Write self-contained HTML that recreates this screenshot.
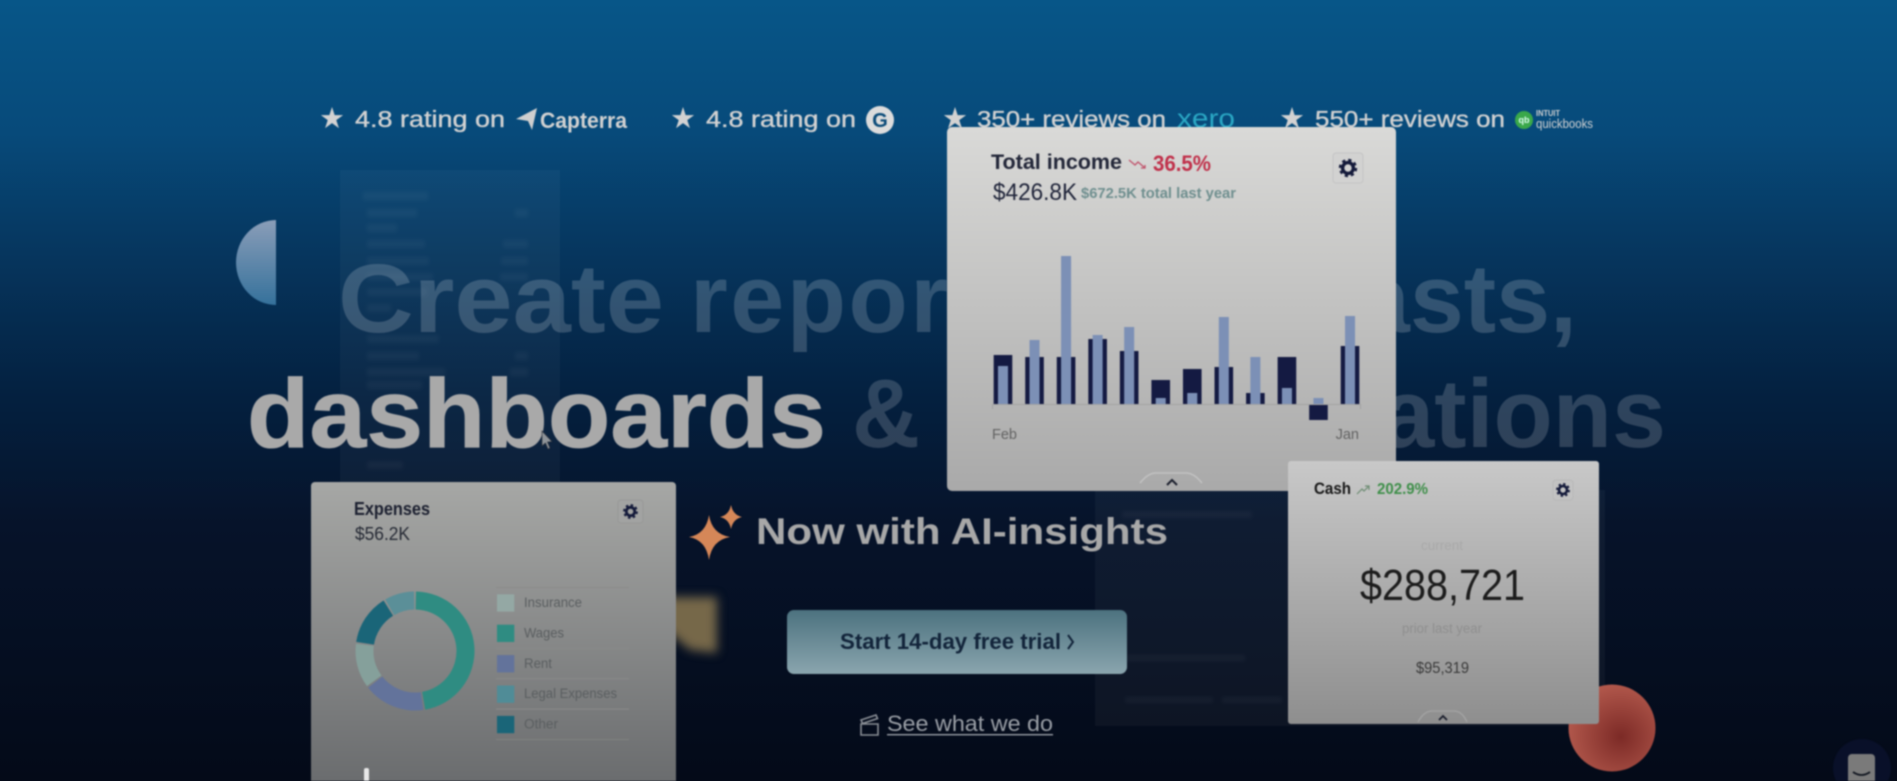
<!DOCTYPE html>
<html lang="en">
<head>
<meta charset="utf-8">
<title>Dashboard hero</title>
<style>
  html,body{margin:0;padding:0;width:1897px;height:781px;overflow:hidden}
  body{background:linear-gradient(180deg,#075688 0,#074a7a 17%,#06355d 33%,#04203f 51%,#06132a 67%,#040a18 100%)}
  svg{display:block;filter:blur(.7px)}
  text{font-family:"Liberation Sans",sans-serif}
</style>
</head>
<body>
<svg id="stage" xmlns="http://www.w3.org/2000/svg" width="1897" height="781" viewBox="0 0 1897 781">
  <defs>
    <linearGradient id="cardIncome" x1="0" y1="0" x2="0" y2="1"><stop offset="0" stop-color="#d9d9d7"/><stop offset="1" stop-color="#a9a9a9"/></linearGradient>
    <linearGradient id="cardExpenses" x1="0" y1="0" x2="0" y2="1"><stop offset="0" stop-color="#a6a7a5"/><stop offset="1" stop-color="#696b6d"/></linearGradient>
    <linearGradient id="cardCash" x1="0" y1="0" x2="0" y2="1"><stop offset="0" stop-color="#c8c8c8"/><stop offset="1" stop-color="#8e8e8e"/></linearGradient>
    <linearGradient id="btn" x1="0" y1="0" x2="0" y2="1"><stop offset="0" stop-color="#4c727f"/><stop offset="1" stop-color="#8aa5ae"/></linearGradient>
    <linearGradient id="half" x1="0" y1="0" x2="0" y2="1"><stop offset="0" stop-color="#8a9db8"/><stop offset="1" stop-color="#35719b"/></linearGradient>
    <radialGradient id="ball" cx=".6" cy=".6" r=".62"><stop offset="0" stop-color="#7c2a26"/><stop offset="1" stop-color="#b2584c"/></radialGradient>
    <filter id="soft" x="-20%" y="-50%" width="140%" height="200%"><feGaussianBlur stdDeviation="2"/></filter>
    <filter id="softer" x="-30%" y="-30%" width="160%" height="160%"><feGaussianBlur stdDeviation="5"/></filter>
  </defs>

  <!-- ghost panels -->
  <g>
    <rect x="340" y="170" width="220" height="312" fill="#fff" opacity=".035"/>
    <g fill="#fff" opacity=".035" filter="url(#soft)">
      <rect x="363" y="192" width="65" height="8"/>
      <rect x="367" y="209" width="50" height="8"/><rect x="515" y="209" width="13" height="8"/>
      <rect x="367" y="224" width="30" height="8"/>
      <rect x="367" y="240" width="58" height="8"/><rect x="503" y="240" width="25" height="8"/>
      <rect x="367" y="257" width="62" height="8"/><rect x="501" y="257" width="27" height="8"/>
      <rect x="367" y="273" width="66" height="8"/><rect x="500" y="273" width="28" height="8"/>
      <rect x="367" y="288" width="60" height="8"/>
      <rect x="367" y="304" width="24" height="8"/>
      <rect x="367" y="335" width="72" height="8"/>
      <rect x="367" y="352" width="52" height="8"/><rect x="515" y="352" width="13" height="8"/>
      <rect x="367" y="368" width="78" height="8"/><rect x="510" y="368" width="18" height="8"/>
      <rect x="367" y="381" width="55" height="8"/>
      <rect x="367" y="461" width="36" height="8"/>
    </g>
  </g>
  <g>
    <rect x="1095" y="490" width="510" height="236" fill="#fff" opacity=".04"/>
    <g fill="#fff" opacity=".035" filter="url(#soft)">
      <rect x="1122" y="511" width="130" height="7"/>
      <rect x="1125" y="655" width="120" height="6"/>
      <rect x="1125" y="697" width="88" height="6"/>
      <rect x="1222" y="697" width="60" height="6"/>
    </g>
  </g>

  <path d="M276 220 A40 42.5 0 0 0 276 305 Z" fill="url(#half)"/>

  <!-- headline -->
  <g font-weight="700" font-size="97">
    <text x="338" y="332" fill="#fff" fill-opacity=".18" textLength="326" lengthAdjust="spacingAndGlyphs">Create</text>
    <text x="690" y="332" fill="#fff" fill-opacity=".18" letter-spacing="2.5">reports,</text>
    <text x="1577" y="332" fill="#fff" fill-opacity=".18" text-anchor="end">forecasts,</text>
    <text x="247" y="447" fill="#a9a9a9" stroke="#a9a9a9" stroke-width=".8" textLength="579" lengthAdjust="spacingAndGlyphs">dashboards</text>
    <text x="852" y="447" fill="#fff" fill-opacity=".17" textLength="68" lengthAdjust="spacingAndGlyphs">&amp;</text>
    <text x="1666" y="447" fill="#fff" fill-opacity=".17" text-anchor="end">visualizations</text>
  </g>

  <!-- cursor -->
  <path d="M542 431 L542 446 L545.5 443 L548 449 L550 448 L547.5 442 L552 441.5 Z" fill="#8f9499" stroke="#2a2f38" stroke-width=".6"/>

  <!-- rating row -->
  <g fill="#d2d2d2" font-size="23">
    <text x="332" y="128" font-size="29" text-anchor="middle" style="font-family:'DejaVu Sans',sans-serif">★</text>
    <text x="355" y="127" stroke="#d2d2d2" stroke-width=".35" textLength="150" lengthAdjust="spacingAndGlyphs">4.8 rating on</text>
    <path d="M516 119 L537 108 L532 130 L528 121 Z" fill="#cfcfcf"/>
    <text x="540" y="128" font-weight="700" textLength="87" lengthAdjust="spacingAndGlyphs" font-size="22">Capterra</text>

    <text x="683" y="128" font-size="29" text-anchor="middle" style="font-family:'DejaVu Sans',sans-serif">★</text>
    <text x="706" y="127" stroke="#d2d2d2" stroke-width=".35" textLength="150" lengthAdjust="spacingAndGlyphs">4.8 rating on</text>
    <circle cx="880" cy="120" r="14" fill="#dcdcdc"/>
    <text x="880" y="127" font-size="20" font-weight="700" text-anchor="middle" fill="#0a4a78">G</text>

    <text x="955" y="128" font-size="29" text-anchor="middle" style="font-family:'DejaVu Sans',sans-serif">★</text>
    <text x="977" y="127" stroke="#d2d2d2" stroke-width=".35" textLength="189" lengthAdjust="spacingAndGlyphs">350+ reviews on</text>
    <text x="1177" y="127" font-size="26" fill="#2aa7c4" textLength="58" lengthAdjust="spacingAndGlyphs">xero</text>

    <text x="1292" y="128" font-size="29" text-anchor="middle" style="font-family:'DejaVu Sans',sans-serif">★</text>
    <text x="1315" y="127" stroke="#d2d2d2" stroke-width=".35" textLength="190" lengthAdjust="spacingAndGlyphs">550+ reviews on</text>
    <circle cx="1524" cy="120" r="9" fill="#3aa84a"/>
    <text x="1524" y="123" font-size="9" font-weight="700" text-anchor="middle" fill="#dfe">qb</text>
    <text x="1536" y="116" font-size="8" font-weight="700" textLength="24" lengthAdjust="spacingAndGlyphs">INTUIT</text>
    <text x="1536" y="128" font-size="13" textLength="57" lengthAdjust="spacingAndGlyphs">quickbooks</text>
  </g>

  <!-- AI line -->
  <g>
    <path d="M709 515 Q712 534 730 537 Q712 540 709 560 Q706 540 689 537 Q706 534 709 515 Z" fill="#d58758"/>
    <path d="M731 505 Q733 515 742 517 Q733 519 731 529 Q729 519 720 517 Q729 515 731 505 Z" fill="#d58758"/>
    <text x="756" y="544" font-size="37" font-weight="700" fill="#a8a8a8" textLength="412" lengthAdjust="spacingAndGlyphs">Now with AI-insights</text>
  </g>

  <!-- orange blurred decoration -->
  <path d="M660 597 L717 597 L717 653 L690 650 L660 625 Z" fill="#766848" filter="url(#softer)"/>

  <!-- CTA -->
  <g>
    <rect x="787" y="610" width="340" height="64" rx="7" fill="url(#btn)"/>
    <text x="840" y="649" font-size="22" font-weight="700" fill="#12243a" textLength="221" lengthAdjust="spacingAndGlyphs">Start 14-day free trial</text>
    <path d="M1068 635 L1073 642 L1068 649" fill="none" stroke="#12243a" stroke-width="2"/>
  </g>
  <g fill="#9a9fa6">
    <path d="M861 724 h17 v11 h-17 Z M861 720 l15 -5 l1.5 3.5 l-15 5 Z" fill="none" stroke="#8a8f96" stroke-width="1.6"/>
    <text x="887" y="731" font-size="22" textLength="166" lengthAdjust="spacingAndGlyphs">See what we do</text>
    <rect x="887" y="734" width="166" height="1.4"/>
  </g>

  <circle cx="1612" cy="728" r="43.5" fill="url(#ball)"/>

  <!-- Total income card -->
  <g>
    <rect x="947" y="127" width="449" height="364" rx="5" fill="url(#cardIncome)"/>
    <text x="991" y="169" font-size="21" font-weight="700" fill="#232739" textLength="131" lengthAdjust="spacingAndGlyphs">Total income</text>
    <path d="M1129 160 L1135 165 L1138 162 L1145 168 M1141 168 H1145 V165" fill="none" stroke="#c0526a" stroke-width="1.3"/>
    <text x="1153" y="171" font-size="22" font-weight="700" fill="#c0304a" textLength="58" lengthAdjust="spacingAndGlyphs">36.5%</text>
    <text x="993" y="200" font-size="24" fill="#20253a" textLength="84" lengthAdjust="spacingAndGlyphs">$426.8K</text>
    <text x="1081" y="198" font-size="14.5" font-weight="700" fill="#6f8f8f" textLength="155" lengthAdjust="spacingAndGlyphs">$672.5K total last year</text>
    <g>
      <rect x="1333" y="153" width="30" height="30" rx="3" fill="#d2d2d1" stroke="#c4c4c4"/>
      <circle cx="1348" cy="168" r="5.4" fill="none" stroke="#141a3a" stroke-width="3.4"/>
      <circle cx="1348" cy="168" r="8" fill="none" stroke="#141a3a" stroke-width="2.4" stroke-dasharray="3.2 3.08"/>
    </g>
    <g id="income-chart"></g>
    <path d="M1140 483 Q1148 473 1156 473 H1186 Q1194 473 1202 483" fill="none" stroke="#c2c2c2" stroke-width="1.5"/>
    <path d="M1167 485 L1172 480 L1177 485" fill="none" stroke="#1a1e2c" stroke-width="2"/>
  </g>

  <!-- Expenses card -->
  <g>
    <path d="M311 788 V486 a4 4 0 0 1 4 -4 H672 a4 4 0 0 1 4 4 V788 Z" fill="url(#cardExpenses)"/>
    <text x="354" y="515" font-size="18" font-weight="700" fill="#1c2030" textLength="76" lengthAdjust="spacingAndGlyphs">Expenses</text>
    <text x="355" y="540" font-size="18.5" fill="#262a35" textLength="55" lengthAdjust="spacingAndGlyphs">$56.2K</text>
    <g>
      <rect x="618" y="500" width="25" height="23" rx="3" fill="#a2a3a2" stroke="#979897"/>
      <circle cx="630.5" cy="511.5" r="4.2" fill="none" stroke="#141a3a" stroke-width="2.8"/>
      <circle cx="630.5" cy="511.5" r="6.4" fill="none" stroke="#141a3a" stroke-width="2" stroke-dasharray="2.5 2.52"/>
    </g>
    <g id="expenses-donut"></g>
    <g id="expenses-legend"></g>
  </g>
  <rect x="364" y="768" width="5" height="14" rx="2" fill="#e8e8e8"/>

  <!-- Cash card -->
  <g>
    <rect x="1288" y="461" width="311" height="263" rx="3" fill="url(#cardCash)"/>
    <text x="1314" y="494" font-size="16.5" font-weight="700" fill="#181818" textLength="37" lengthAdjust="spacingAndGlyphs">Cash</text>
    <path d="M1357 494 L1362 489 L1364 491 L1369 486 M1365 486 H1369 V490" fill="none" stroke="#6c8c72" stroke-width="1.2"/>
    <text x="1377" y="494" font-size="15.5" font-weight="700" fill="#3f8f4a" textLength="51" lengthAdjust="spacingAndGlyphs">202.9%</text>
    <g>
      <rect x="1553" y="480" width="20" height="20" rx="3" fill="#c2c2c2" stroke="#b8b8b8"/>
      <circle cx="1563" cy="490" r="4" fill="none" stroke="#141a3a" stroke-width="2.6"/>
      <circle cx="1563" cy="490" r="6" fill="none" stroke="#141a3a" stroke-width="1.9" stroke-dasharray="2.3 2.41"/>
    </g>
    <text x="1442" y="550" font-size="13.5" fill="#a9a9a9" text-anchor="middle">current</text>
    <text x="1360" y="600" font-size="44" fill="#1c1c1c" textLength="165" lengthAdjust="spacingAndGlyphs">$288,721</text>
    <text x="1402" y="633" font-size="13.5" fill="#8f8f8f" textLength="80" lengthAdjust="spacingAndGlyphs">prior last year</text>
    <text x="1416" y="673" font-size="16" fill="#3a3a3a" textLength="53" lengthAdjust="spacingAndGlyphs">$95,319</text>
    <path d="M1418 722 Q1424 711 1432 711 H1454 Q1462 711 1467 722" fill="none" stroke="#a5a5a5" stroke-width="1.3"/>
    <path d="M1439 720 L1443 716 L1447 720" fill="none" stroke="#1a1e2c" stroke-width="1.8"/>
  </g>

  <!-- chat widget -->
  <g>
    <circle cx="1862" cy="768" r="29" fill="#091029"/>
    <rect x="1848" y="754" width="27" height="34" rx="4" fill="#7a7a7a"/>
    <path d="M1853 772 Q1861.5 778 1870 772" fill="none" stroke="#10151f" stroke-width="1.8"/>
  </g>
</svg>

<script>
const SVGNS = 'http://www.w3.org/2000/svg';

// Total income chart data ($K)
const months = ['Feb','Mar','Apr','May','Jun','Jul','Aug','Sep','Oct','Nov','Dec','Jan'];
const currentYear = [49,47,47,65,53,24,35,37,11,47,-16,58];
const priorYear = [38,64,148,69,77,6,11,87,47,16,6,88];
const axisLabels = ['Feb','Jan'];

// Expenses donut data (% of total)
const expenseNames = ['Wages','Rent','Insurance','Other','Legal Expenses'];
const expenseValues = [47.5,17.2,12.5,14.2,8.6];
const legendOrder = ['Insurance','Wages','Rent','Legal Expenses','Other'];

const expenseColors = {'Insurance':'#94a8a4','Wages':'#2f8c82','Rent':'#63739b','Legal Expenses':'#508c97','Other':'#1a6578'};
const donutColors = {'Insurance':'#85a09b','Wages':'#2f8c82','Rent':'#63739b','Legal Expenses':'#5b8f98','Other':'#1a6578'};

function xScale(i){ return 987.2 + (i + 0.5) * 31.55; }
function yScale(v){ return 404 - v; }

const chart = document.getElementById('income-chart');
months.forEach(function(m, i){
  const cx = xScale(i);
  const cur = currentYear[i];
  const pri = priorYear[i];

  const dark = document.createElementNS(SVGNS, 'rect');
  
  
  dark.setAttribute('x', cx - 9.3);
  dark.setAttribute('width', 18.6);
  dark.setAttribute('y', Math.min(yScale(cur), yScale(0)));
  dark.setAttribute('height', Math.abs(yScale(cur) - yScale(0)));
  dark.setAttribute('fill', '#141a42');
  chart.appendChild(dark);

  const light = document.createElementNS(SVGNS, 'rect');
  
  
  light.setAttribute('x', cx - 5);
  light.setAttribute('width', 10);
  light.setAttribute('y', Math.min(yScale(pri), yScale(0)));
  light.setAttribute('height', Math.abs(yScale(pri) - yScale(0)));
  light.setAttribute('fill', '#7c90b6');
  chart.appendChild(light);
});

const axis = document.createElementNS(SVGNS, 'path');


axis.setAttribute('d', 'M992.5 409 V404.5 H1360.5 V409');
axis.setAttribute('fill', 'none');
axis.setAttribute('stroke', '#a2a2a2');
axis.setAttribute('stroke-width', '1');
chart.appendChild(axis);

axisLabels.forEach(function(label, i){
  const t = document.createElementNS(SVGNS, 'text');
  
  
  t.setAttribute('x', i === 0 ? 992 : 1359);
  t.setAttribute('y', 439);
  t.setAttribute('text-anchor', i === 0 ? 'start' : 'end');
  t.setAttribute('font-size', '14.5');
  t.setAttribute('fill', '#626262');
  t.textContent = label;
  chart.appendChild(t);
});

// Donut
const donut = document.getElementById('expenses-donut');
const dcx = 415, dcy = 651, rOuter = 59.5, rInner = 41.5;
const total = expenseValues.reduce(function(a, b){ return a + b; }, 0);
function polar(r, deg){
  const a = (deg - 90) * Math.PI / 180;
  return [dcx + r * Math.cos(a), dcy + r * Math.sin(a)];
}
let angle = 0;
expenseNames.forEach(function(name, i){
  const sweep = expenseValues[i] / total * 360;
  const a0 = angle + 0.9, a1 = angle + sweep - 0.9;
  const p0 = polar(rOuter, a0), p1 = polar(rOuter, a1), p2 = polar(rInner, a1), p3 = polar(rInner, a0);
  const large = (a1 - a0) > 180 ? 1 : 0;
  const slice = document.createElementNS(SVGNS, 'path');
  
  
  slice.setAttribute('d', 'M' + p0[0] + ' ' + p0[1] + ' A' + rOuter + ' ' + rOuter + ' 0 ' + large + ' 1 ' + p1[0] + ' ' + p1[1] +
    ' L' + p2[0] + ' ' + p2[1] + ' A' + rInner + ' ' + rInner + ' 0 ' + large + ' 0 ' + p3[0] + ' ' + p3[1] + ' Z');
  slice.setAttribute('fill', donutColors[name]);
  donut.appendChild(slice);
  angle += sweep;
});

// Legend
const legend = document.getElementById('expenses-legend');
const legendWidths = {'Insurance':58,'Wages':40,'Rent':28,'Legal Expenses':93,'Other':34};
legendOrder.forEach(function(name, i){
  const rowTop = 587 + i * 30.4;
  const slug = name.toLowerCase().replace(/\s+/g, '-');

  const line = document.createElementNS(SVGNS, 'rect');
  
  
  line.setAttribute('x', 496);
  line.setAttribute('y', rowTop);
  line.setAttribute('width', 133);
  line.setAttribute('height', 1);
  line.setAttribute('fill', '#8a8b8a');
  legend.appendChild(line);

  const swatch = document.createElementNS(SVGNS, 'rect');
  
  
  swatch.setAttribute('x', 497);
  swatch.setAttribute('y', rowTop + 7.3);
  swatch.setAttribute('width', 17.3);
  swatch.setAttribute('height', 17.3);
  swatch.setAttribute('fill', expenseColors[name]);
  legend.appendChild(swatch);

  const label = document.createElementNS(SVGNS, 'text');
  
  
  label.setAttribute('x', 524);
  label.setAttribute('y', rowTop + 20);
  label.setAttribute('font-size', '13.5');
  label.setAttribute('fill', '#5a5e60');
  label.setAttribute('textLength', legendWidths[name]);
  label.setAttribute('lengthAdjust', 'spacingAndGlyphs');
  label.textContent = name;
  legend.appendChild(label);
});

const endLine = document.createElementNS(SVGNS, 'rect');


endLine.setAttribute('x', 496);
endLine.setAttribute('y', 739);
endLine.setAttribute('width', 133);
endLine.setAttribute('height', 1);
endLine.setAttribute('fill', '#808180');
legend.appendChild(endLine);
</script>
</body>
</html>
